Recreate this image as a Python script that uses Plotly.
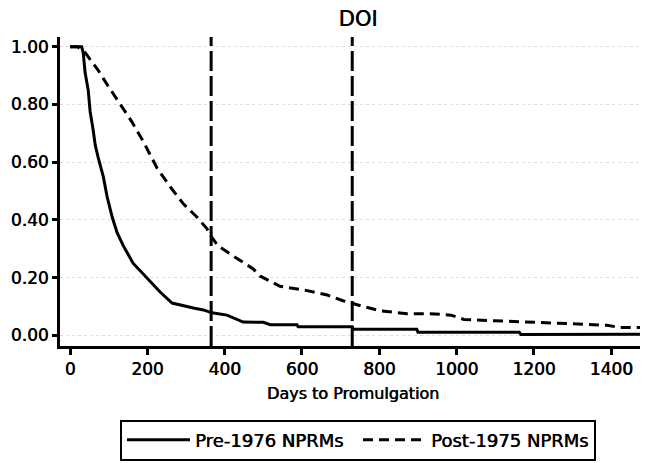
import plotly.graph_objects as go

# Kaplan-Meier style survival estimates
pre_days = [0, 30, 34, 39, 47, 52, 60, 65, 73, 86, 96, 109, 122, 138, 163, 199, 233, 264,
            285, 319, 345, 367, 406, 448, 500, 518, 587, 590, 730, 732, 897, 900, 1162,
            1166, 1475]
pre_surv = [1.0, 1.0, 0.98, 0.91, 0.85, 0.775, 0.71, 0.66, 0.615, 0.55, 0.48, 0.41, 0.355,
            0.31, 0.25, 0.197, 0.15, 0.112, 0.105, 0.095, 0.088, 0.078, 0.07, 0.046, 0.045,
            0.037, 0.037, 0.03, 0.03, 0.021, 0.021, 0.011, 0.011, 0.003, 0.004]

post_days = [0, 20, 39, 72, 98, 134, 160, 189, 225, 259, 293, 328, 354, 365, 383, 422, 474,
             492, 543, 613, 665, 706, 730, 758, 802, 872, 931, 986, 1019, 1105, 1190, 1294,
             1389, 1423, 1485]
post_surv = [1.0, 1.0, 0.98, 0.92, 0.865, 0.795, 0.74, 0.673, 0.58, 0.515, 0.456, 0.41,
             0.37, 0.343, 0.31, 0.275, 0.23, 0.205, 0.17, 0.155, 0.14, 0.12, 0.11, 0.10,
             0.085, 0.075, 0.075, 0.07, 0.055, 0.05, 0.045, 0.038, 0.035, 0.027, 0.027]

ref_days = [365, 730]
x_ticks = [0, 200, 400, 600, 800, 1000, 1200, 1400]
y_ticks = [0.0, 0.2, 0.4, 0.6, 0.8, 1.0]

FONT = "DejaVu Sans"
SHADOW = "0.6px 0px 0px black"

def f(size):
    return dict(family=FONT, size=size, color="black", shadow=SHADOW)

fig = go.Figure()
fig.add_trace(go.Scatter(x=pre_days, y=pre_surv, mode="lines", name="Pre-1976 NPRMs",
                         line=dict(color="black", width=3)))
fig.add_trace(go.Scatter(x=post_days, y=post_surv, mode="lines", name="Post-1975 NPRMs",
                         line=dict(color="black", width=3, dash="10px,6px")))

for d in ref_days:
    fig.add_shape(type="line", x0=d, x1=d, xref="x", y0=0, y1=1, yref="paper",
                  line=dict(color="black", width=3, dash="20px,5px"))

# page has an 8px body margin, so the figure is 8px smaller than the window
fig.update_layout(
    width=640, height=455,
    margin=dict(l=52, r=2, t=29, b=111),
    paper_bgcolor="white", plot_bgcolor="white",
    font=f(17),
    title=dict(text="DOI", x=0.5085, xref="paper", xanchor="center",
               y=1 - 3 / 455, yref="container", yanchor="top",
               pad=dict(t=0, b=0, l=0, r=0),
               font=f(21)),
    showlegend=True,
    legend=dict(orientation="h", x=0.5085, xanchor="center", y=-0.238, yanchor="top",
                bordercolor="black", borderwidth=2, bgcolor="white",
                font=f(18), itemwidth=63, entrywidth=158, tracegroupgap=0),
)

fig.update_xaxes(range=[-26, 1490], tickvals=x_ticks, ticktext=[str(v) for v in x_ticks],
                 showline=True, linecolor="black", linewidth=3,
                 ticks="outside", ticklen=6, tickwidth=2.5, tickcolor="black",
                 showgrid=False, zeroline=False,
                 tickfont=f(17),
                 title=dict(text="Days to Promulgation", standoff=10, font=f(16)))
fig.update_yaxes(range=[-0.037, 1.034], tickvals=y_ticks,
                 ticktext=[f"{v:.2f}" for v in y_ticks],
                 showline=True, linecolor="black", linewidth=3,
                 ticks="outside", ticklen=5, tickwidth=2.5, tickcolor="black",
                 showgrid=True, gridcolor="#dddddd", gridwidth=1, griddash="dot",
                 zeroline=False,
                 tickfont=f(17))

fig.write_html("out.html")
